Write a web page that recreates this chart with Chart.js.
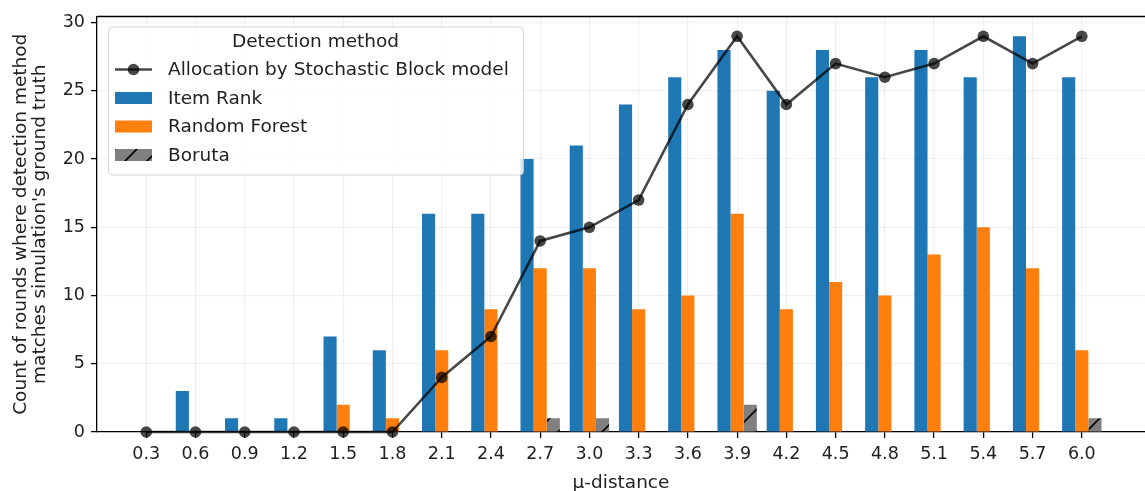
<!DOCTYPE html>
<html>
<head>
<meta charset="utf-8">
<script src="https://cdn.jsdelivr.net/npm/chart.js@4.4.1/dist/chart.umd.min.js"></script>
<style>
  html, body { margin: 0; padding: 0; background: #fff; overflow: hidden; }
  #wrap { width: 1145px; height: 491px; }
  canvas { display: block; }
</style>
</head>
<body>
<div id="wrap"><canvas id="chart" width="1145" height="491"></canvas></div>
<script>
// values
const muDistance = [0.3, 0.6, 0.9, 1.2, 1.5, 1.8, 2.1, 2.4, 2.7, 3.0, 3.3, 3.6, 3.9, 4.2, 4.5, 4.8, 5.1, 5.4, 5.7, 6.0];
const sbmAllocation = [0, 0, 0, 0, 0, 0, 4, 7, 14, 15, 17, 24, 29, 24, 27, 26, 27, 29, 27, 29];
const itemRank = [0, 3, 1, 1, 7, 6, 16, 16, 20, 21, 24, 26, 28, 25, 28, 26, 28, 26, 29, 26];
const randomForest = [0, 0, 0, 0, 2, 1, 6, 9, 12, 12, 9, 10, 16, 9, 11, 10, 13, 15, 12, 6];
const boruta = [0, 0, 0, 0, 0, 0, 0, 0, 1, 1, 0, 0, 2, 0, 0, 0, 0, 0, 0, 1];
const yTicks = [0, 5, 10, 15, 20, 25, 30];

const FONT = "'DejaVu Sans', sans-serif";
const GRID = 'rgba(0,0,0,0.06)';

function hatchPattern() {
  const s = 22;
  const c = document.createElement('canvas');
  c.width = s; c.height = s;
  const g = c.getContext('2d');
  g.fillStyle = '#808080';
  g.fillRect(0, 0, s, s);
  g.strokeStyle = '#000';
  g.lineWidth = 1.6;
  g.beginPath();
  g.moveTo(-s, s); g.lineTo(s, -s);
  g.moveTo(0, s); g.lineTo(s, 0);
  g.moveTo(0, 2 * s); g.lineTo(2 * s, 0);
  g.stroke();
  return g.createPattern(c, 'repeat');
}
const borutaFill = hatchPattern();

const pts = (arr) => muDistance.map((x, i) => ({ x: x, y: arr[i] }));

// top spine + boxed legend like matplotlib
const frameAndLegend = {
  id: 'frameAndLegend',
  afterDraw(chart) {
    const { ctx, chartArea: a } = chart;
    ctx.save();
    ctx.strokeStyle = '#000';
    ctx.lineWidth = 1.3;
    ctx.beginPath();
    ctx.moveTo(a.left, a.top);
    ctx.lineTo(a.right, a.top);
    ctx.stroke();

    const x0 = a.left + 11, y0 = a.top + 10, w = 415, h = 148;
    ctx.fillStyle = 'rgba(255,255,255,0.8)';
    ctx.strokeStyle = 'rgba(204,204,204,0.8)';
    ctx.lineWidth = 1;
    ctx.beginPath();
    ctx.roundRect(x0 + 0.5, y0 + 0.5, w, h, 4);
    ctx.fill();
    ctx.stroke();

    ctx.fillStyle = '#222';
    ctx.font = '18.5px ' + FONT;
    ctx.textBaseline = 'middle';
    ctx.textAlign = 'center';
    ctx.fillText('Detection method', x0 + w / 2, y0 + 16);

    ctx.textAlign = 'left';
    const ds = chart.data.datasets;
    const rows = [y0 + 43, y0 + 71.5, y0 + 100, y0 + 128.5];
    const sx = x0 + 7, sw = 37, tx = x0 + 60;
    // line swatch
    ctx.strokeStyle = ds[0].borderColor;
    ctx.lineWidth = ds[0].borderWidth;
    ctx.beginPath();
    ctx.moveTo(sx, rows[0]); ctx.lineTo(sx + sw, rows[0]);
    ctx.stroke();
    ctx.fillStyle = ds[0].pointBackgroundColor;
    ctx.beginPath();
    ctx.arc(sx + sw / 2, rows[0], ds[0].pointRadius, 0, Math.PI * 2);
    ctx.fill();
    for (let i = 1; i < 4; i++) {
      ctx.fillStyle = ds[i].backgroundColor;
      ctx.fillRect(sx, rows[i] - 6, sw, 12);
    }
    ctx.fillStyle = '#222';
    ds.forEach((d, i) => ctx.fillText(d.label, tx, rows[i] + 1));
    ctx.restore();
  }
};

new Chart(document.getElementById('chart'), {
  type: 'bar',
  data: {
    datasets: [
      {
        type: 'line',
        label: 'Allocation by Stochastic Block model',
        data: pts(sbmAllocation),
        borderColor: 'rgba(0,0,0,0.72)',
        borderWidth: 2.6,
        pointRadius: 5.8,
        pointBorderWidth: 0,
        pointBackgroundColor: 'rgba(0,0,0,0.72)',
        tension: 0,
        clip: false,
        order: 0
      },
      { label: 'Item Rank', data: pts(itemRank), backgroundColor: '#1f77b4', order: 1 },
      { label: 'Random Forest', data: pts(randomForest), backgroundColor: '#ff7f0e', order: 1 },
      { label: 'Boruta', data: pts(boruta), backgroundColor: borutaFill, order: 1 }
    ]
  },
  options: {
    responsive: false,
    animation: false,
    devicePixelRatio: 1,
    layout: { autoPadding: false, padding: { top: 13, right: 0, left: 0, bottom: 0 } },
    datasets: { bar: { categoryPercentage: 0.8, barPercentage: 1.0, borderWidth: 0 } },
    plugins: { legend: { display: false }, tooltip: { enabled: false } },
    scales: {
      x: {
        type: 'linear',
        min: 0,
        max: 6.385,
        offset: false,
        afterBuildTicks: (s) => { s.ticks = muDistance.map(v => ({ value: v })); },
        afterFit: (s) => { s.height = 59; s.paddingLeft = 0; s.paddingRight = 0; },
        ticks: {
          callback: (v) => v.toFixed(1),
          font: { family: FONT, size: 17.5 },
          color: '#222',
          padding: 6,
          maxRotation: 0,
          autoSkip: false
        },
        grid: { color: GRID, lineWidth: 1.2, offset: false, tickColor: '#000', tickLength: 6, tickWidth: 1.3 },
        border: { color: '#000', width: 1.3 },
        title: {
          display: true,
          text: 'μ-distance',
          font: { family: FONT, size: 18.5 },
          color: '#222',
          padding: { top: 0, bottom: -3 }
        }
      },
      y: {
        min: 0,
        max: 30.45,
        afterBuildTicks: (s) => { s.ticks = yTicks.map(v => ({ value: v })); },
        afterFit: (s) => { s.width = 97; },
        ticks: {
          font: { family: FONT, size: 17.5 },
          color: '#222',
          padding: 6
        },
        grid: { color: GRID, lineWidth: 1.2, tickColor: '#000', tickLength: 6, tickWidth: 1.3 },
        border: { color: '#000', width: 1.3 },
        title: {
          display: true,
          text: ['Count of rounds where detection method', "matches simulation's ground truth"],
          font: { family: FONT, size: 18.5, lineHeight: 1.0 },
          color: '#222',
          padding: { top: 12, bottom: 0 }
        }
      }
    }
  },
  plugins: [frameAndLegend]
});
</script>
</body>
</html>
